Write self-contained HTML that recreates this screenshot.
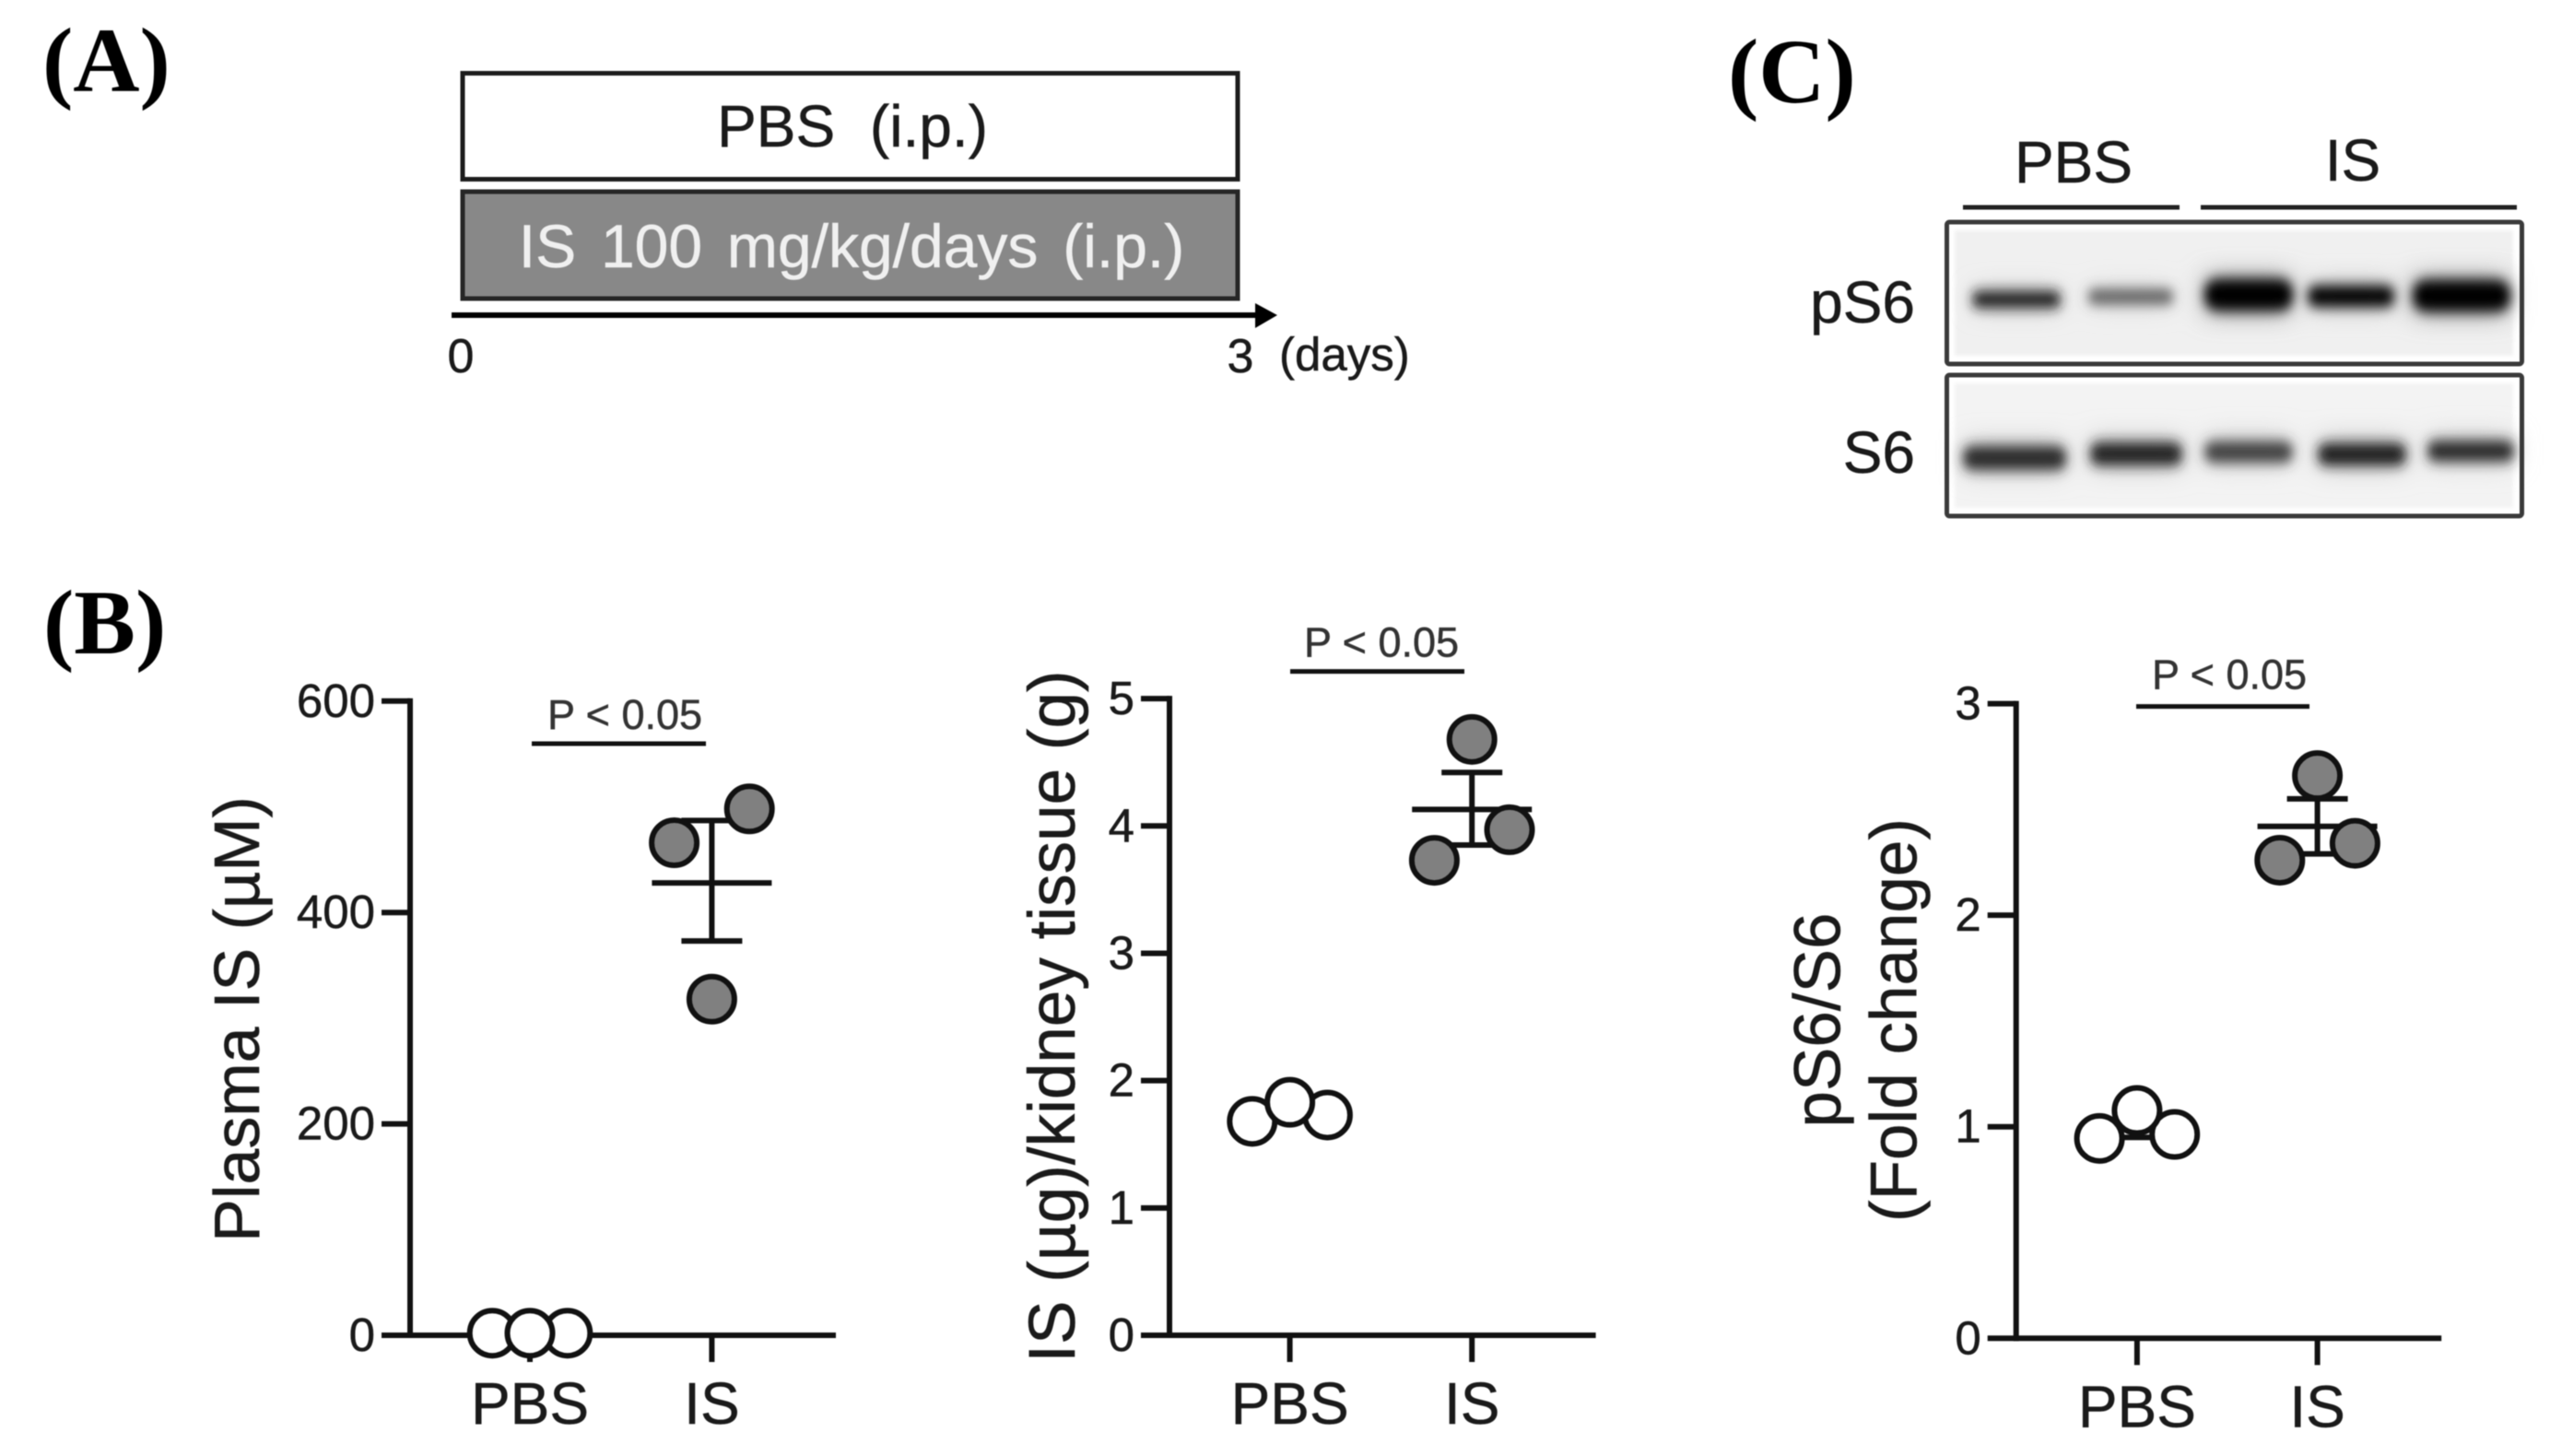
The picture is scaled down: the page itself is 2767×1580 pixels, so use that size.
<!DOCTYPE html>
<html lang="en">
<head>
<meta charset="utf-8">
<title>IS treatment figure</title>
<style>
html,body{margin:0;padding:0;background:#fff;}
svg{display:block;filter:blur(0.6px);}
text{font-family:"Liberation Sans",sans-serif;fill:#1a1a1a;stroke:#1a1a1a;stroke-width:0.5px;}
.panel{font-family:"Liberation Serif",serif;font-weight:bold;font-size:100px;fill:#000;stroke:none;}
</style>
</head>
<body>
<svg id="figure" xmlns="http://www.w3.org/2000/svg" width="2767" height="1580" viewBox="0 0 2767 1580">
  <defs>
    <filter id="bandBlur" x="-30%" y="-200%" width="160%" height="500%"><feGaussianBlur stdDeviation="6 7"/></filter>
    <filter id="haloBlur" x="-30%" y="-200%" width="160%" height="500%"><feGaussianBlur stdDeviation="14 13"/></filter>
    <filter id="bgBlur"><feGaussianBlur stdDeviation="2"/></filter>
  </defs>
  <rect width="2767" height="1580" fill="#fff"/>

  <text class="panel" x="46" y="99" font-size="98">(A)</text>
  <text class="panel" x="47" y="709">(B)</text>
  <text class="panel" x="1875" y="111">(C)</text>

  <g>
    <rect x="502" y="79.5" width="841" height="115" fill="#fff" stroke="#1c1c1c" stroke-width="5"/>
    <text x="925" y="159" text-anchor="middle" font-size="64" word-spacing="20">PBS (i.p.)</text>
    <rect x="502" y="208" width="841" height="116" fill="#888888" stroke="#262626" stroke-width="5"/>
    <text x="924" y="290" text-anchor="middle" font-size="66" word-spacing="8.5" style="fill:#f0f0f0;stroke:#f0f0f0">IS 100 mg/kg/days (i.p.)</text>
    <line x1="490" y1="342" x2="1365" y2="342" stroke="#000" stroke-width="6"/>
    <polygon points="1362,329 1386,342 1362,356" fill="#000"/>
    <text x="500" y="404" text-anchor="middle" font-size="52">0</text>
    <text x="1346" y="404" text-anchor="middle" font-size="52">3</text>
    <text x="1388" y="402" font-size="51">(days)</text>
  </g>

  <g>
    <text x="2250" y="198" text-anchor="middle" font-size="64">PBS</text>
    <text x="2553" y="196" text-anchor="middle" font-size="64">IS</text>
    <line x1="2130" y1="225" x2="2365" y2="225" stroke="#222" stroke-width="5"/>
    <line x1="2388" y1="225" x2="2731" y2="225" stroke="#222" stroke-width="5"/>
    <text x="2078" y="350" text-anchor="end" font-size="64">pS6</text>
    <text x="2078" y="513" text-anchor="end" font-size="64">S6</text>

    <g>
      <rect x="2112" y="241" width="624" height="154" fill="#fff"/>
      <rect x="2121" y="250" width="606" height="136" fill="#f0f0f0" filter="url(#bgBlur)"/>
      <g filter="url(#haloBlur)">
        <rect x="2394" y="298" width="90" height="44" fill="#999"/>
        <rect x="2620" y="299" width="100" height="44" fill="#999"/>
        <rect x="2508" y="306" width="88" height="30" fill="#bbb"/>
        <rect x="2146" y="314" width="86" height="22" fill="#c4c4c4"/>
        <rect x="2270" y="312" width="84" height="20" fill="#d4d4d4"/>
      </g>
      <g filter="url(#bandBlur)">
        <rect x="2140" y="316" width="96" height="18" rx="7" fill="#1c1c1c"/>
        <rect x="2266" y="314" width="92" height="16" rx="6" fill="#5c5c5c"/>
        <rect x="2392" y="303" width="96" height="34" rx="14" fill="#000"/>
        <rect x="2504" y="310" width="94" height="23" rx="9" fill="#000"/>
        <rect x="2618" y="304" width="106" height="34" rx="14" fill="#000"/>
      </g>
      <rect x="2112.5" y="241" width="624" height="154" rx="3" fill="none" stroke="#3a3a3a" stroke-width="5"/>
    </g>

    <g>
      <rect x="2112" y="407" width="624" height="153" fill="#fff"/>
      <rect x="2121" y="416" width="606" height="135" fill="#f3f3f3" filter="url(#bgBlur)"/>
      <g filter="url(#haloBlur)">
        <rect x="2134" y="478" width="104" height="36" fill="#c8c8c8"/>
        <rect x="2270" y="474" width="96" height="36" fill="#c8c8c8"/>
        <rect x="2394" y="472" width="90" height="34" fill="#d0d0d0"/>
        <rect x="2517" y="474" width="92" height="36" fill="#c8c8c8"/>
        <rect x="2636" y="471" width="90" height="34" fill="#d0d0d0"/>
      </g>
      <g filter="url(#bandBlur)">
        <rect x="2130" y="484" width="112" height="26" rx="10" fill="#2c2c2c"/>
        <rect x="2268" y="480" width="100" height="25" rx="10" fill="#222"/>
        <rect x="2392" y="479" width="96" height="23" rx="10" fill="#404040"/>
        <rect x="2515" y="481" width="96" height="24" rx="10" fill="#1a1a1a"/>
        <rect x="2634" y="478" width="94" height="23" rx="9" fill="#2c2c2c"/>
      </g>
      <rect x="2112.5" y="407" width="624" height="153" rx="3" fill="none" stroke="#3a3a3a" stroke-width="5"/>
    </g>
  </g>

  <g id="charts"></g>
</svg>

<script>
// Shared categories
const groups = ['PBS', 'IS'];
const swarmSlots = [-1, 0, 1];

// Plasma IS chart
const plasmaYTicks = [0, 200, 400, 600];
const plasmaYLabels = ['0', '200', '400', '600'];
const plasmaPbsValues = [2, 2, 2];
const plasmaIsValues = [466, 318, 498];
const plasmaMeans = [2, 428];
const plasmaErrLow = [1, 373];
const plasmaErrHigh = [3, 487];

// Kidney IS chart
const kidneyYTicks = [0, 1, 2, 3, 4, 5];
const kidneyYLabels = ['0', '1', '2', '3', '4', '5'];
const kidneyPbsValues = [1.68, 1.83, 1.73];
const kidneyIsValues = [3.73, 4.68, 3.97];
const kidneyMeans = [1.75, 4.13];
const kidneyErrLow = [1.70, 3.85];
const kidneyErrHigh = [1.80, 4.42];

// pS6/S6 chart
const ratioYTicks = [0, 1, 2, 3];
const ratioYLabels = ['0', '1', '2', '3'];
const ratioPbsValues = [0.945, 1.077, 0.964];
const ratioIsValues = [2.26, 2.66, 2.34];
const ratioMeans = [0.99, 2.42];
const ratioErrLow = [0.95, 2.29];
const ratioErrHigh = [1.03, 2.55];

const svgNS = 'http://www.w3.org/2000/svg';
const chartsRoot = document.getElementById('charts');

function make(parent, tag, props, text) {
  const node = document.createElementNS(svgNS, tag);
  for (const k in props) node.setAttribute(k, props[k]);
  if (text !== undefined) node.textContent = text;
  parent.appendChild(node);
  return node;
}

function segment(parent, x1, y1, x2, y2, width) {
  return make(parent, 'line', {x1: x1, y1: y1, x2: x2, y2: y2, stroke: '#111', 'stroke-width': width});
}

function drawChart(cfg) {
  const g = make(chartsRoot, 'g', {});
  
  

  const yMax = cfg.yTicks[cfg.yTicks.length - 1];
  const yScale = v => cfg.y0 - (v / yMax) * (cfg.y0 - cfg.yTop);
  const xScale = i => cfg.xFirst + i * cfg.xStep;
  const swarmSpacing = 40.8;
  const radius = 24.5;

  // y axis
  const yAxis = segment(g, cfg.axisX, yScale(yMax) - 3, cfg.axisX, cfg.y0 + 3, 6);
  
  

  cfg.yTicks.forEach((t, i) => {
    const tick = segment(g, cfg.axisX - 31, yScale(t), cfg.axisX, yScale(t), 6);
    
    
    const label = make(g, 'text', {x: cfg.axisX - 38, y: yScale(t) + 17, 'text-anchor': 'end', 'font-size': 51}, cfg.yLabels[i]);
    
    
  });

  // x axis
  const xAxis = segment(g, cfg.axisX, cfg.y0, cfg.xEnd, cfg.y0, 6);
  
  

  groups.forEach((name, i) => {
    const tick = segment(g, xScale(i), cfg.y0, xScale(i), cfg.y0 + 29, 6);
    
    
    const label = make(g, 'text', {x: xScale(i), y: cfg.y0 + 96, 'text-anchor': 'middle', 'font-size': 64}, name);
    
    
  });

  // y title lines
  cfg.titles.forEach(t => {
    const title = make(g, 'text', {
      transform: 'translate(' + t.x + ',' + cfg.titleY + ') rotate(-90)',
      'text-anchor': 'middle', 'font-size': cfg.titleSize
    }, t.text);
    
    
  });

  // significance annotation
  const sigBar = segment(g, cfg.sigX1, cfg.sigBarY, cfg.sigX2, cfg.sigBarY, 5);
  
  
  const sigText = make(g, 'text', {x: cfg.sigTextX, y: cfg.sigTextY, 'text-anchor': 'middle', 'font-size': 45, style: 'fill:#333;stroke:#333'}, 'P < 0.05');
  
  

  // mean and SEM
  groups.forEach((name, i) => {
    const x = xScale(i);
    const stem = segment(g, x, yScale(cfg.errHigh[i]), x, yScale(cfg.errLow[i]), 6);
    
    
    const mean = segment(g, x - 65, yScale(cfg.means[i]), x + 65, yScale(cfg.means[i]), 6);
    
    
    const capHigh = segment(g, x - 33, yScale(cfg.errHigh[i]), x + 33, yScale(cfg.errHigh[i]), 6);
    
    
    const capLow = segment(g, x - 33, yScale(cfg.errLow[i]), x + 33, yScale(cfg.errLow[i]), 6);
    
    
  });

  // points: outer slots first so the centre point sits on top
  [cfg.pbs, cfg.is].forEach((values, i) => {
    [0, 2, 1].forEach(idx => {
      const dot = make(g, 'circle', {
        cx: xScale(i) + swarmSlots[idx] * swarmSpacing,
        cy: yScale(values[idx]),
        r: radius,
        fill: i === 0 ? '#fff' : '#808080',
        stroke: '#111',
        'stroke-width': 6
      });
      
      
    });
  });
}

drawChart({
  name: 'plasma-is', yTicks: plasmaYTicks, yLabels: plasmaYLabels,
  pbs: plasmaPbsValues, is: plasmaIsValues,
  means: plasmaMeans, errLow: plasmaErrLow, errHigh: plasmaErrHigh,
  axisX: 445, y0: 1449, yTop: 760.8, xFirst: 575, xStep: 197.4, xEnd: 907,
  titles: [{x: 281, text: 'Plasma IS (µM)'}], titleY: 1106, titleSize: 70,
  sigX1: 577, sigX2: 766, sigBarY: 807, sigTextX: 678, sigTextY: 791
});

drawChart({
  name: 'kidney-is', yTicks: kidneyYTicks, yLabels: kidneyYLabels,
  pbs: kidneyPbsValues, is: kidneyIsValues,
  means: kidneyMeans, errLow: kidneyErrLow, errHigh: kidneyErrHigh,
  axisX: 1269, y0: 1449, yTop: 758.1, xFirst: 1399.6, xStep: 197.6, xEnd: 1731.6,
  titles: [{x: 1166, text: 'IS (µg)/kidney tissue (g)'}], titleY: 1103, titleSize: 71,
  sigX1: 1400, sigX2: 1589, sigBarY: 728.6, sigTextX: 1499, sigTextY: 712.6
});

drawChart({
  name: 'ps6-ratio', yTicks: ratioYTicks, yLabels: ratioYLabels,
  pbs: ratioPbsValues, is: ratioIsValues,
  means: ratioMeans, errLow: ratioErrLow, errHigh: ratioErrHigh,
  axisX: 2187.7, y0: 1452.3, yTop: 763.6, xFirst: 2318.9, xStep: 195.7, xEnd: 2649.2,
  titles: [{x: 1996.5, text: 'pS6/S6'}, {x: 2079.5, text: '(Fold change)'}], titleY: 1107, titleSize: 71,
  sigX1: 2318, sigX2: 2506, sigBarY: 766.6, sigTextX: 2419, sigTextY: 747.7
});
</script>
</body>
</html>
